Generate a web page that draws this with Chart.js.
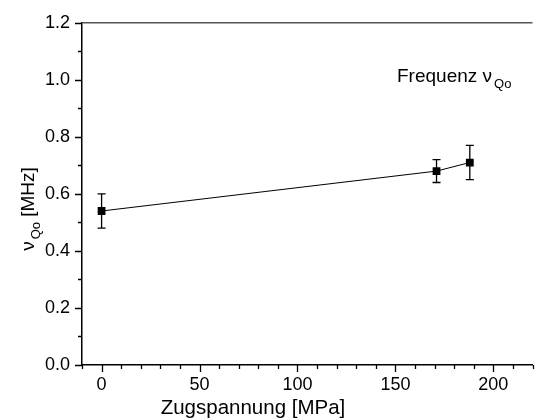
<!DOCTYPE html>
<html>
<head>
<meta charset="utf-8">
<script src="https://cdn.jsdelivr.net/npm/chart.js@4.4.1/dist/chart.umd.min.js"></script>
<style>
  body { margin: 0; background: #fff; }
  canvas { display: block; }
</style>
</head>
<body>
<canvas id="chart" width="538" height="418"></canvas>
<script>
// data
const stress = [0, 171, 188];              // Zugspannung [MPa]
const freq = [0.54, 0.68, 0.71];           // nu_Qo [MHz]
const errUp = [0.06, 0.04, 0.06];
const errDown = [0.06, 0.04, 0.06];

const xTickVals = [0, 50, 100, 150, 200];
const yTickVals = [0.0, 0.2, 0.4, 0.6, 0.8, 1.0, 1.2];
const xMinorStep = 10;
const yMinorStep = 0.1;

const FONT = "'Liberation Sans', Arial, sans-serif";

// minor/major ticks, top frame line, error bars, axis titles, annotation
const decorations = {
    id: 'decorations',
    beforeDatasetsDraw(chart) {
        const ctx = chart.ctx;
        const xs = chart.scales.x, ys = chart.scales.y;
        ctx.save();
        ctx.strokeStyle = '#000';
        ctx.lineWidth = 1.3;
        const cap = 4;
        stress.forEach((v, i) => {
            const px = xs.getPixelForValue(v);
            const top = ys.getPixelForValue(freq[i] + errUp[i]);
            const bot = ys.getPixelForValue(freq[i] - errDown[i]);
            ctx.beginPath();
            ctx.moveTo(px, top); ctx.lineTo(px, bot);
            ctx.moveTo(px - cap, top); ctx.lineTo(px + cap, top);
            ctx.moveTo(px - cap, bot); ctx.lineTo(px + cap, bot);
            ctx.stroke();
        });
        ctx.restore();
    },
    afterDraw(chart) {
        const ctx = chart.ctx;
        const area = chart.chartArea;
        const xs = chart.scales.x, ys = chart.scales.y;
        ctx.save();
        ctx.strokeStyle = '#000';
        ctx.lineWidth = 1.3;
        ctx.beginPath();
        for (let v = xs.min; v <= xs.max + 1e-9; v += xMinorStep) {
            const px = Math.round(xs.getPixelForValue(v)) + 0.5;
            const major = xTickVals.includes(Math.round(v));
            ctx.moveTo(px, area.bottom);
            ctx.lineTo(px, area.bottom + (major ? 7 : 4));
        }
        for (let i = 0; i <= Math.round((ys.max - ys.min) / yMinorStep); i++) {
            const v = ys.min + i * yMinorStep;
            const py = Math.round(ys.getPixelForValue(v)) + 0.5;
            const major = i % 2 === 0;
            ctx.moveTo(area.left, py);
            ctx.lineTo(area.left - (major ? 7 : 4), py);
        }
        ctx.stroke();

        // top frame line
        ctx.strokeStyle = '#555';
        ctx.lineWidth = 1.5;
        ctx.beginPath();
        ctx.moveTo(area.left, area.top);
        ctx.lineTo(area.right, area.top);
        ctx.stroke();

        ctx.fillStyle = '#000';
        ctx.textBaseline = 'alphabetic';

        // x axis title
        ctx.textAlign = 'center';
        ctx.font = '20.5px ' + FONT;
        ctx.fillText('Zugspannung [MPa]', 253, 414);

        ctx.textAlign = 'left';
        // annotation
        let x = 397;
        const y = 82;
        ctx.font = '19px ' + FONT;
        ctx.fillText('Frequenz ν', x, y);
        x += ctx.measureText('Frequenz ν').width + 2;
        ctx.font = '13px ' + FONT;
        ctx.fillText('Qo', x, y + 6);

        // y axis title, rotated
        ctx.translate(34, 209);
        ctx.rotate(-Math.PI / 2);
        ctx.font = '19px ' + FONT;
        const w1 = ctx.measureText('ν').width;
        ctx.font = '13px ' + FONT;
        const w2 = ctx.measureText('Qo').width;
        ctx.font = '19px ' + FONT;
        const w3 = ctx.measureText(' [MHz]').width;
        let sx = -(w1 + w2 + w3 + 2) / 2;
        ctx.fillText('ν', sx, 0);
        sx += w1 + 2;
        ctx.font = '13px ' + FONT;
        ctx.fillText('Qo', sx, 6);
        sx += w2;
        ctx.font = '19px ' + FONT;
        ctx.fillText(' [MHz]', sx, 0);
        ctx.restore();
    }
};

new Chart(document.getElementById('chart'), {
    type: 'line',
    data: {
        datasets: [{
            data: stress.map((v, i) => ({ x: v, y: freq[i] })),
            borderColor: '#000',
            borderWidth: 1,
            pointStyle: 'rect',
            pointRadius: 5.5,
            pointBackgroundColor: '#000',
            pointBorderColor: '#000',
            pointBorderWidth: 0,
            tension: 0
        }]
    },
    options: {
        responsive: false,
        animation: false,
        events: [],
        layout: { padding: { top: 20, right: 2, left: 0, bottom: 0 } },
        plugins: { legend: { display: false }, tooltip: { enabled: false } },
        scales: {
            x: {
                type: 'linear',
                min: -10,
                max: 220,
                afterBuildTicks: s => { s.ticks = xTickVals.map(v => ({ value: v })); },
                afterFit: s => { s.height = 53; },
                grid: { display: false, drawTicks: false, tickLength: 0 },
                border: { display: true, color: '#000', width: 1.5 },
                ticks: { color: '#000', padding: 9, font: { family: FONT, size: 18 } }
            },
            y: {
                min: 0,
                max: 1.2,
                afterBuildTicks: s => { s.ticks = yTickVals.map(v => ({ value: v })); },
                afterFit: s => { s.width = 82; },
                grid: { display: false, drawTicks: false, tickLength: 0 },
                border: { display: true, color: '#000', width: 1.5 },
                ticks: {
                    color: '#000',
                    padding: 12,
                    font: { family: FONT, size: 18 },
                    callback: v => Number(v).toFixed(1)
                }
            }
        }
    },
    plugins: [decorations]
});
</script>
</body>
</html>
